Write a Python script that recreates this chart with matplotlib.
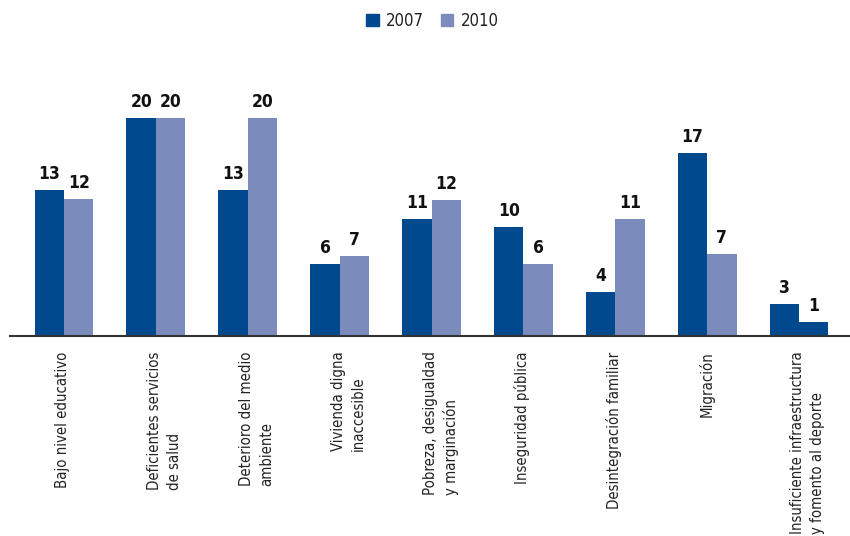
import matplotlib
matplotlib.use('Agg')
import matplotlib.pyplot as plt
import matplotlib.transforms as mtransforms
import numpy as np

plt.rcParams['font.family'] = ['DejaVu Sans']
plt.rcParams['font.stretch'] = 'condensed'

categories = ['Bajo nivel educativo',
              'Deficientes servicios\nde salud',
              'Deterioro del medio\nambiente',
              'Vivienda digna\ninaccesible',
              'Pobreza, desigualdad\ny marginación',
              'Inseguridad pública',
              'Desintegración familiar',
              'Migración',
              'Insuficiente infraestructura\ny fomento al deporte']
v2007 = [13.4, 20.0, 13.4, 6.6, 10.7, 10.0, 4.0, 16.8, 2.9]
v2010 = [12.6, 20.0, 20.0, 7.3, 12.5, 6.6, 10.7, 7.5, 1.3]
lab2007 = ['13', '20', '13', '6', '11', '10', '4', '17', '3']
lab2010 = ['12', '20', '20', '7', '12', '6', '11', '7', '1']

dark = '#00498F'
light = '#7A8BBC'

fig = plt.figure(figsize=(8.5, 5.36), dpi=100)
ax = fig.add_axes([10/850, 200/536, 840/850, 276/536])

x = np.arange(len(categories))
w = 0.32
b1 = ax.bar(x - w/2, v2007, w, color=dark, label='2007')
cols2010 = [light] * (len(categories) - 1) + [dark]  # last one drawn dark in the original
b2 = ax.bar(x + w/2, v2010, w, color=cols2010, label='2010')

for bars, labs in [(b1, lab2007), (b2, lab2010)]:
    for rect, t in zip(bars, labs):
        ax.annotate(t, (rect.get_x() + rect.get_width()/2, rect.get_height()),
                    xytext=(0, 5), textcoords='offset points', ha='center', va='bottom',
                    fontsize=12.5, fontweight='bold', color='#111111')

ax.set_xlim(-0.588, 8.555)
ax.set_ylim(0, 25.3)
for s in ['left', 'right', 'top']:
    ax.spines[s].set_visible(False)
ax.spines['bottom'].set_color('#333333')
ax.spines['bottom'].set_linewidth(1.5)
ax.set_yticks([])
ax.set_xticks(x)
ax.set_xticklabels(categories, rotation=90, ha='left', va='top',
                   multialignment='left', fontsize=10.7, color='#222222',
                   linespacing=1.45)
ax.tick_params(axis='x', length=0, pad=11)
offset = mtransforms.ScaledTranslation(-9/100, 0, fig.dpi_scale_trans)
for lbl in ax.get_xticklabels():
    lbl.set_transform(lbl.get_transform() + offset)

h1 = plt.Rectangle((0, 0), 1, 1, color=dark)
h2 = plt.Rectangle((0, 0), 1, 1, color=light)
leg = fig.legend([h1, h2], ['2007', '2010'], loc='upper center', bbox_to_anchor=(0.509, 1.006),
                 ncol=2, frameon=False, fontsize=12, handlelength=0.75, handleheight=0.75,
                 handletextpad=0.45, columnspacing=1.0)
for t in leg.get_texts():
    t.set_color('#222222')

fig.savefig('out.png', dpi=100)
